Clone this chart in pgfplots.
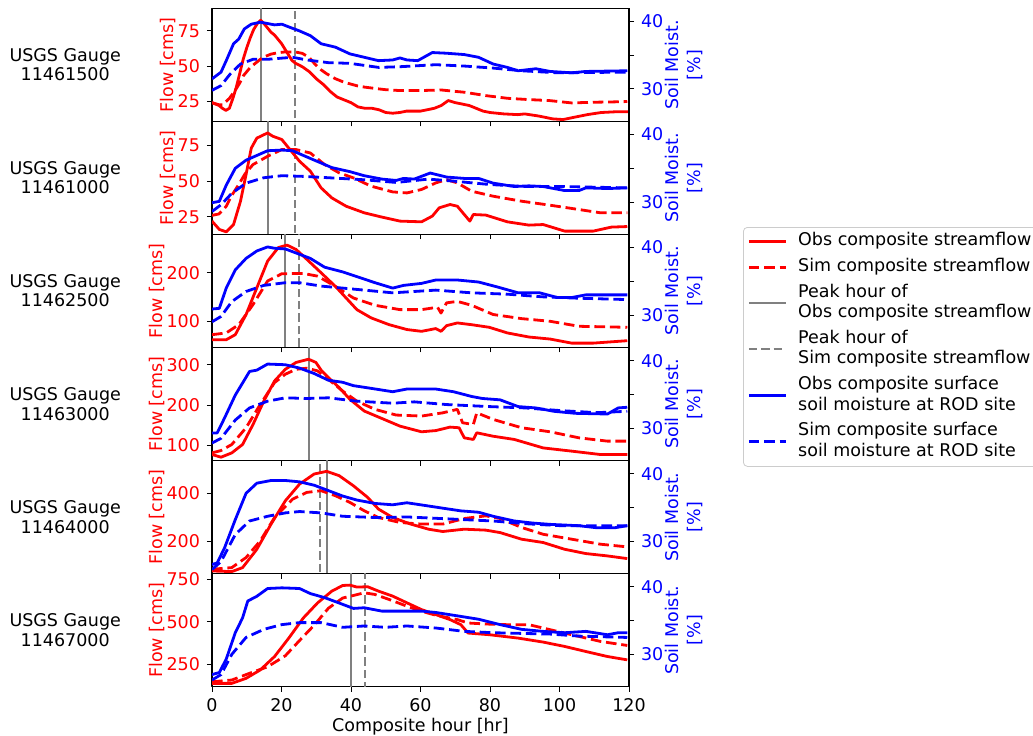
\documentclass[border=0pt]{standalone}
\usepackage{fontspec}
\setmainfont{DejaVu Sans}
\usepackage{pgfplots}
\pgfplotsset{compat=1.18}
\definecolor{mgray}{HTML}{808080}
\newcommand{\f}{\fontsize{8.75}{10.5}\selectfont}
\pgfplotsset{
  base/.style={scale only axis, width=208.5pt, height=56.53pt, xmin=0, xmax=120,
    xtick={0,20,...,120}, tick align=outside, major tick length=2.5pt,
    tick style={black, line width=0.5pt}, axis line style={line width=0.6pt},
    /pgf/number format/assume math mode=true, font=\f,
    every tick label/.append style={font=\f}, clip=true, clip mode=individual,
    anchor=south west, line join=round},
  L/.style={base, xtick pos=bottom, ytick pos=left, yticklabel style={red},
    ylabel={Flow [cms]}, ylabel style={red, yshift=-6pt}},
  R/.style={base, axis x line=none, axis y line*=right, ytick={30,35,40},
    yticklabels={30,,40}, ymin=25.2, ymax=41.95, yticklabel style={blue},
    ylabel={Soil Moist.\\{[\%]}}, ylabel style={blue, align=center, yshift=6pt, font=\fontsize{8.75}{11}\selectfont}},
  obsq/.style={red, line width=1.4pt},
  simq/.style={red, line width=1.4pt, dash pattern=on 5.3pt off 2.4pt},
  obsp/.style={mgray, line width=1pt},
  simp/.style={mgray, line width=1pt, dash pattern=on 4.2pt off 2pt},
  obss/.style={blue, line width=1.4pt},
  sims/.style={blue, line width=1.4pt, dash pattern=on 5.3pt off 2.4pt},
}
\newcommand{\gauge}[1]{\node[align=center, black, font=\fontsize{8.75}{9.6}\selectfont] at (rel axis cs:-0.352,0.5) {USGS Gauge\\#1};}
\begin{document}
\begin{tikzpicture}[font=\f]
\useasboundingbox (0,0) rectangle (516.5pt,367.5pt);
% ---------- Panel 1
\begin{axis}[L, at={(106pt,306.8pt)}, ymin=10.7, ymax=91, ytick={25,50,75}, xticklabels={}]
\addplot[obsp] coordinates {(14,-1000)(14,2000)};
\addplot[simp] coordinates {(24,-1000)(24,2000)};
\addplot[obsq] coordinates {(0,24)(1,23)(2,22)(3,20)(4,18.5)(5,20)(6,27)(7,35)(8,45)(9,55)(10,63)(11,70)(12,76)(13,80)(14,82.5)(15,80)(16,77)(17,74)(18,72)(19,69)(20,66)(21,62)(22,58)(23,54)(24,52)(26,49.5)(28,46)(30,41)(32,37)(34,32)(36,28)(38,26)(40,24)(42,21)(44,20)(46,20)(48,19)(50,17)(52,16.5)(54,17)(56,18)(58,18)(60,18)(62,19)(64,20)(66,22)(68,25.5)(70,24)(72,23)(74,22)(76,20)(78,18)(80,17)(84,16)(88,15.5)(90,16)(94,14.5)(98,12.5)(101,12)(104,13.5)(108,15.5)(112,17)(116,17.5)(120,17.5)};
\addplot[simq] coordinates {(0,24)(2,22.5)(3,22.5)(5,27)(7,34)(8,38)(9,43)(11,49)(13,53)(14,55)(15,56.5)(17,58.5)(19,59.5)(21,60)(24,60)(26,59)(28,56)(29.4,52)(31,48)(33,44.5)(35.5,41)(38,38.5)(41.7,36)(44,35)(47.9,33.8)(50,33.2)(54,32.6)(60,32.6)(66,33)(70,32)(72.6,31.4)(78.8,29)(85,27.1)(91,26.2)(97,25.5)(103.5,23.8)(109.7,24.3)(115,24.5)(119.5,24.8)};
\gauge{11461500}
\end{axis}
\begin{axis}[R, at={(106pt,306.8pt)}]
\addplot[obss] coordinates {(0,31.5)(2.6,32.5)(4.1,34.2)(6.2,36.7)(7.7,37.4)(9.3,38.9)(11.3,39.6)(13.9,39.9)(16,39.7)(18,39.5)(20.1,39.6)(22.1,39.2)(25.2,38.6)(28.3,37.9)(31.4,36.7)(35.5,36.2)(39.7,35.2)(43.8,34.7)(47.9,34.2)(52,34.3)(54.1,34.6)(56.1,34.3)(59.2,34.2)(63.4,35.4)(67.5,35.3)(72.6,35.1)(76.7,34.7)(80.9,33.7)(85,33.2)(88.1,32.7)(93.2,33)(97.3,32.6)(103.5,32.4)(107.6,32.6)(119.5,32.7)};
\addplot[sims] coordinates {(0,29.8)(2.6,30.5)(5.2,32.2)(8.2,33.7)(11.8,34.4)(16,34.4)(23.2,34.7)(27.3,34.3)(33.5,33.9)(39.7,33.8)(47.9,33.2)(54.1,33.3)(64.4,33.6)(72.6,33.4)(80.9,33.1)(89.1,32.7)(99.4,32.4)(119.5,32.5)};
\end{axis}
% ---------- Panel 2
\begin{axis}[L, at={(106pt,250.28pt)}, ymin=12.7, ymax=91.7, ytick={25,50,75}, xticklabels={}]
\addplot[obsp] coordinates {(16,-1000)(16,2000)};
\addplot[simp] coordinates {(24,-1000)(24,2000)};
\addplot[obsq] coordinates {(0,22)(2.1,16.2)(4.1,14.5)(6.2,19.6)(8.2,35.9)(9.8,54.5)(11.3,73)(12.9,80)(16,83.6)(17.5,81.3)(20.1,79)(22.1,73)(25.2,63.8)(28.3,56.9)(31.4,45.2)(34.5,38.2)(38.6,32.4)(43.8,27.8)(48.9,24.8)(54.1,22)(60.3,21.5)(63.4,25.5)(65.4,31.3)(68.5,33.6)(70.6,32.4)(72.6,26.6)(74.2,22)(75.2,26.6)(78.8,26.2)(85,21.5)(91.2,19.2)(95.3,19.6)(101.5,15)(109.7,15)(114.9,17.8)(119.5,18.2)};
\addplot[simq] coordinates {(0,26)(2,27)(4,32)(5.7,40)(7.7,47.6)(9.5,55)(11.8,61.5)(16,67.3)(20.1,72)(24.2,72)(28.3,69.6)(32.4,61.5)(36.6,55.7)(40.7,52.2)(45.8,46.4)(52,42.4)(56.1,41.7)(60.3,44.1)(64.4,48.7)(67.5,51)(70.6,48.7)(74.7,42.9)(80.9,39.4)(89.1,35.9)(97.3,33.1)(105.6,30.1)(111.8,27.8)(119.5,27.8)};
\gauge{11461000}
\end{axis}
\begin{axis}[R, at={(106pt,250.28pt)}]
\addplot[obss] coordinates {(0,29.9)(2.1,30.1)(4.1,32.5)(6.7,35)(9.8,36.2)(12.9,36.9)(16,37.6)(20.1,37.7)(23.2,37.6)(26.3,36.9)(30.4,36)(34.5,35.1)(39.7,34.5)(43.8,33.9)(48.9,33.4)(53,33.2)(55.1,33.5)(58.2,33.4)(62.8,34.3)(67.5,33.7)(72.6,33.5)(76.7,33.5)(80.9,32.8)(87,32.3)(91.2,32.4)(95.3,32.3)(101.5,31.7)(105.6,31.7)(107.6,32.1)(113.8,32)(119.5,32.1)};
\addplot[sims] coordinates {(0,28.6)(2.6,29.6)(5.7,31.3)(9.8,32.8)(14.9,33.6)(20.1,33.9)(26.3,33.8)(33.5,33.6)(43.8,33.3)(53,32.9)(62.3,33.4)(69.5,33.1)(79.8,32.6)(90.1,32.3)(100.4,32.3)(119.5,32.1)};
\end{axis}
% ---------- Panel 3
\begin{axis}[L, at={(106pt,193.75pt)}, ymin=46, ymax=279, ytick={100,200}, xticklabels={}]
\addplot[obsp] coordinates {(21,-1000)(21,2000)};
\addplot[simp] coordinates {(25,-1000)(25,2000)};
\addplot[obsq] coordinates {(0,62)(4.1,62)(6.7,72.4)(9.8,113.8)(12.9,169)(16,224)(19.1,252)(21.6,257)(24.2,248)(27.3,227.6)(31.4,200)(35.5,172)(38.6,148)(41.7,124)(45.8,107)(51,93)(56.1,83)(60.3,79.3)(64.4,85)(65.9,79.3)(67.5,91)(70.6,96.6)(74.7,93)(79.8,87.6)(85,76)(91.2,67.6)(97.3,63.4)(103.5,55)(109.7,55)(119.5,60)};
\addplot[simq] coordinates {(0,72.4)(4.1,76)(7.7,93)(11.8,134.5)(16,183)(20.1,198)(26.3,198.6)(30.4,193)(35.5,172)(40.7,148)(46.9,133)(54.1,124)(60.3,124)(64.9,129)(65.9,117)(67.5,138)(70.6,141)(74.7,133)(80.9,114)(89.1,105.5)(97.3,100)(105.6,89.7)(119.5,87.6)};
\gauge{11462500}
\end{axis}
\begin{axis}[R, at={(106pt,193.75pt)}]
\addplot[obss] coordinates {(0,30.9)(2.1,31)(4.1,34)(6.7,36.7)(9.8,38.4)(12.9,39.5)(16,40.1)(18,39.9)(21.1,39.8)(24.2,39.2)(28.3,38.4)(32.4,37.1)(37.6,36.4)(41.7,35.7)(46.9,34.8)(52,34)(55.1,34.4)(60.3,34.7)(64.4,35.2)(70.6,35.2)(76.7,34.9)(81.9,34.2)(88.1,33.3)(94.3,33.3)(99.4,32.6)(103.5,32.6)(107.6,33)(119.5,33)};
\addplot[sims] coordinates {(0,29)(2.6,29.8)(5.7,32)(9.8,33.5)(14.9,34.4)(21.1,34.8)(25.2,34.8)(31.4,34.3)(39.7,33.9)(52,33.3)(58.2,33.5)(64.4,33.7)(74.7,33.3)(85,33.1)(95.3,32.7)(105.6,32.5)(119.5,32.3)};
\end{axis}
% ---------- Panel 4
\begin{axis}[L, at={(106pt,137.21pt)}, ymin=62.6, ymax=343, ytick={100,200,300}, xticklabels={}]
\addplot[obsp] coordinates {(28,-1000)(28,2000)};
\addplot[simp] coordinates {(28,-1000)(28,2000)};
\addplot[obsq] coordinates {(0,77.6)(2.6,71)(5.7,81.7)(8.8,102.5)(11.8,152)(14.9,210)(18,260)(21.1,289)(24.2,306)(27.8,314)(29.9,306)(31.4,287)(33.5,268.5)(36.6,243.6)(39.7,214.5)(43.8,185.5)(48.9,167)(54.1,148)(60.3,134)(64.4,137)(68.5,145.6)(71.1,144)(72.6,119)(75.2,115)(76.2,131.5)(80.9,123)(87,115)(95.3,94)(103.5,86)(111.8,77.6)(119.5,77.6)};
\addplot[simq] coordinates {(0,81.7)(2.6,87.5)(5.7,102.5)(9.8,144)(13.9,202)(18,256)(21.1,276.8)(24.2,289)(27.3,291.7)(30.4,285)(33.5,264)(37.6,235)(41.7,210)(46.9,189.6)(53,175.5)(60.3,173)(66.4,181)(70.6,189.6)(72.1,156.4)(75.2,152)(76.2,181)(80.9,164.7)(89.1,144)(97.3,134)(105.6,119)(113.8,110.8)(119.5,110.8)};
\gauge{11463000}
\end{axis}
\begin{axis}[R, at={(106pt,137.21pt)}]
\addplot[obss] coordinates {(0,29.3)(1.5,29.3)(3.6,31.5)(6.7,34.9)(10.8,38.4)(12.9,38.6)(16,39.5)(21.1,39.4)(25.2,38.9)(29.4,38.1)(33.5,37.1)(37.6,36.8)(40.7,36.3)(45.8,35.9)(52,35.4)(56.1,35.8)(64.4,35.8)(69.5,35.4)(74.7,34.7)(77.8,34.4)(82.9,34.2)(88.1,33.2)(93.2,33)(98.4,32.5)(104.6,32.2)(113.8,32.1)(116.9,33)(119.5,33.1)};
\addplot[sims] coordinates {(0,27.8)(2.6,28.5)(6.7,31.2)(10.8,33)(16,34)(21.1,34.5)(27.3,34.4)(33.5,34.5)(41.7,34)(52,33.7)(58.2,33.9)(67.5,33.5)(79.8,33.2)(90.1,33)(100.4,32.6)(110.7,32.3)(119.5,32.5)};
\end{axis}
% ---------- Panel 5
\begin{axis}[L, at={(106pt,80.68pt)}, ymin=67.6, ymax=534, ytick={200,400}, xticklabels={}]
\addplot[obsp] coordinates {(33,-1000)(33,2000)};
\addplot[simp] coordinates {(31,-1000)(31,2000)};
\addplot[obsq] coordinates {(0,78.7)(5.7,76)(8.8,92.5)(12.9,168)(17,272)(21.1,368)(25.2,437)(29.4,478.6)(33,489.6)(36.6,471.7)(40.7,430)(44.8,382)(47.9,334)(52,299)(57.2,272)(62.3,251)(66.4,241.4)(72.6,251)(78.8,247)(82.9,237)(89.1,209.6)(95.3,196)(101.5,168)(107.6,150.4)(113.8,140.7)(119.5,129.7)};
\addplot[simq] coordinates {(0,85.6)(5.7,92.5)(9.8,134)(13.9,203)(18,299)(23.2,375)(27.3,402.8)(31.4,409.7)(35.5,389)(39.7,361.4)(43.8,327)(47.9,299)(54.1,278.6)(60.3,272)(66.4,272)(72.6,295)(78.8,306)(82.9,295)(89.1,258)(95.3,230)(103.5,209.7)(111.8,189)(119.5,178)};
\gauge{11464000}
\end{axis}
\begin{axis}[R, at={(106pt,80.68pt)}]
\addplot[obss] coordinates {(0,26.55)(1.5,26.8)(3.6,29)(6.7,33.2)(9.8,37.1)(12.9,38.6)(17,39)(21.1,39)(25.2,38.8)(29.4,38.3)(33.5,37.5)(37.6,36.7)(41.7,36.1)(46.9,35.6)(52,35.4)(56.1,35.7)(61.3,35.3)(66.4,34.9)(71.6,34.5)(76.7,34.3)(80.9,33.7)(87,33)(92.2,32.7)(97.3,32.5)(105.6,32.3)(110.7,32)(115.9,32)(119.5,32.3)};
\addplot[sims] coordinates {(0,25.8)(2.6,27)(6.7,31)(10.8,33)(16,33.7)(21.1,34.2)(25.2,34.4)(31.4,34.2)(37.6,33.7)(47.9,33.5)(56.1,33.6)(64.4,33.4)(72.6,33.2)(80.9,33)(90.1,32.6)(100.4,32.3)(119.5,32.3)};
\end{axis}
% ---------- Panel 6
\begin{axis}[L, at={(106pt,24.14pt)}, ymin=117.6, ymax=783.6, ytick={250,500,750}, xlabel={Composite hour [hr]}, xlabel style={yshift=4pt}]
\addplot[obsp] coordinates {(40,-1000)(40,2000)};
\addplot[simp] coordinates {(44,-1000)(44,2000)};
\addplot[obsq] coordinates {(0,137.4)(5.7,137.4)(9.8,167)(13.9,216.5)(18,295.5)(22.1,404)(26.3,523)(30.4,611.7)(34.5,680.8)(37.6,714)(39.7,716)(41.7,704.6)(44.8,706.5)(47.9,680.8)(52,651.2)(56.1,611.7)(60.3,572)(64.4,542.5)(68.5,513)(71.6,483.2)(73.7,433.8)(79.8,424)(88.1,404)(95.3,380.5)(101.5,354.8)(107.6,325)(113.8,295.5)(119.5,275.8)};
\addplot[simq] coordinates {(0,147)(5.7,157)(10.8,196.7)(16,235)(21.1,300)(25.2,390)(29.4,480)(33.5,580)(37.6,640)(40.7,655)(43.8,671)(46.9,661)(51,631.4)(56.1,592)(60.3,562.3)(64.4,538.6)(70.6,513)(73.7,493)(78.8,487)(85,483)(91.2,483)(97.3,453.6)(105.6,414)(111.8,384.4)(119.5,360.7)};
\gauge{11467000}
\end{axis}
\begin{axis}[R, at={(106pt,24.14pt)}]
\addplot[obss] coordinates {(0,27)(2.1,27.3)(4.1,29.3)(6.7,33.2)(8.8,35.4)(10.3,37.9)(12.9,38.6)(16,39.75)(20.1,39.85)(25.2,39.75)(28.3,39)(32.4,38.4)(36.6,37.6)(40.7,36.8)(43.8,36.9)(48.9,36.4)(54.1,36.4)(60.3,36.4)(64.4,36.2)(70.6,35.7)(76.7,35.2)(82.9,34.4)(89.1,33.7)(95.3,33.4)(101.5,33.2)(107.6,33.4)(113.8,32.9)(116.9,33.2)(119.5,33.2)};
\addplot[sims] coordinates {(0,26.2)(2.6,27)(5.7,30)(9.8,32.5)(14.9,33.7)(20.1,34.4)(25.2,34.7)(31.4,34.7)(37.6,34)(43.8,34.2)(49.9,34)(56.1,34.2)(64.4,33.9)(72.6,33.4)(80.9,33.2)(89.1,33.1)(97.3,33)(105.6,32.7)(119.5,32.5)};
\end{axis}
% ---------- Legend
\begin{axis}[at={(371.5pt,254pt)}, anchor=north west, scale only axis, width=5pt, height=5pt,
  hide axis, xmin=0, xmax=1, ymin=0, ymax=1,
  legend style={at={(0,1)}, anchor=north west, draw=black!20, rounded corners=2pt,
    font=\fontsize{8.75}{10.3}\selectfont, row sep=2.5pt, inner sep=2pt,
    nodes={inner xsep=3pt, inner ysep=0pt, text depth=},
    /tikz/every odd column/.append style={column sep=2.5pt}},
  legend cell align=left,
  legend image code/.code={\draw[#1] (0pt,0pt) -- (18.5pt,0pt);}]
\addlegendimage{obsq}
\addlegendentry{\begin{tabular}{@{}l@{}}Obs composite streamflow\end{tabular}}
\addlegendimage{simq}
\addlegendentry{\begin{tabular}{@{}l@{}}Sim composite streamflow\end{tabular}}
\addlegendimage{obsp}
\addlegendentry{\begin{tabular}{@{}l@{}}Peak hour of\\Obs composite streamflow\end{tabular}}
\addlegendimage{simp}
\addlegendentry{\begin{tabular}{@{}l@{}}Peak hour of\\Sim composite streamflow\end{tabular}}
\addlegendimage{obss}
\addlegendentry{\begin{tabular}{@{}l@{}}Obs composite surface\\soil moisture at ROD site\end{tabular}}
\addlegendimage{sims}
\addlegendentry{\begin{tabular}{@{}l@{}}Sim composite surface\\soil moisture at ROD site\end{tabular}}
\end{axis}
\end{tikzpicture}
\end{document}
